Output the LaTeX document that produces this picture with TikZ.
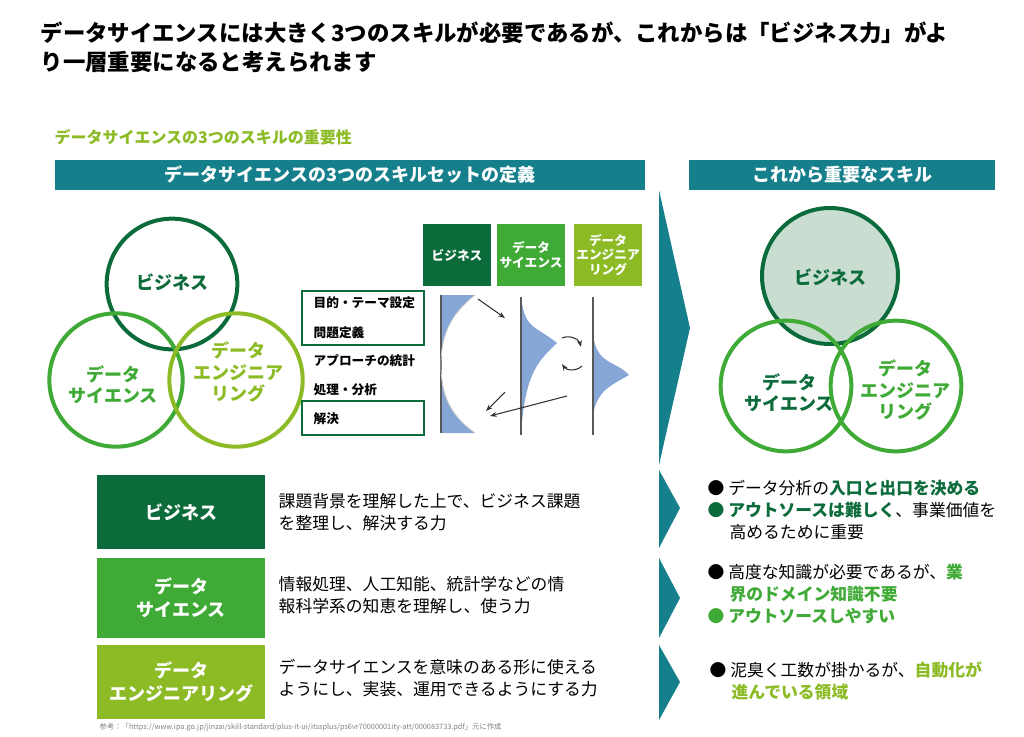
\documentclass[tikz,border=0pt]{standalone}
\usepackage{fontspec}
\setmainfont{Noto Sans CJK JP}
\usetikzlibrary{arrows.meta}
\definecolor{dg}{HTML}{0B6B3A}
\definecolor{mg}{HTML}{3FAA35}
\definecolor{lg}{HTML}{8CBB26}
\definecolor{teal}{HTML}{167F8C}
\definecolor{blu}{HTML}{86A6D6}
\definecolor{bizfill}{HTML}{C9DDD1}
\newcommand{\hind}{\hspace*{1.3em}}
\begin{document}
\begin{tikzpicture}[x=0.75pt,y=-0.75pt,
  hdr/.style={fill=teal,text=white,font=\bfseries\fontsize{13.5}{15}\selectfont,inner sep=0},
  circ/.style={line width=3pt,circle},
  ctext/.style={font=\bfseries\fontsize{13.5}{16}\selectfont,align=center},
  tbox/.style={draw=dg,line width=1.6pt,minimum width=92pt,inner sep=0},
  ltext/.style={font=\bfseries\fontsize{9.5}{11}\selectfont,anchor=west},
  sbox/.style={text=white,font=\bfseries\fontsize{9.5}{11}\selectfont,align=center,minimum width=51pt,minimum height=47pt,inner sep=0},
  bbox/.style={text=white,font=\bfseries\fontsize{13.5}{17}\selectfont,align=center,minimum width=126pt,inner sep=0},
  desc/.style={font=\fontsize{12.6}{17}\selectfont,align=left,anchor=west},
  rt/.style={font=\fontsize{12.6}{16.5}\selectfont,align=left,anchor=north west},
  arr/.style={-{Stealth[length=5pt]},line width=0.8pt,draw=black!80},
  chev/.style={fill=teal,draw=none}]
\useasboundingbox (0,0) rectangle (1024,736);
\node[anchor=north west,font=\bfseries\fontsize{16.8}{22}\selectfont,align=left] (title) at (36,17) {データサイエンスには大きく3つのスキルが必要であるが、これからは「ビジネス力」がよ\\り一層重要になると考えられます};
\node[anchor=west,text=lg,font=\bfseries\fontsize{12}{14}\selectfont] (sub) at (50,137) {データサイエンスの3つのスキルの重要性};
\node[hdr,minimum width=442pt,minimum height=22.5pt] (h1) at (350,175) {データサイエンスの3つのスキルセットの定義};
\node[hdr,minimum width=229pt,minimum height=22.5pt] (h2) at (842,175) {これから重要なスキル};
% chevrons
\fill[chev] (659,190) -- (690,328) -- (659,465) -- cycle;
\fill[chev] (659,470) -- (680,508) -- (659,548) -- cycle;
\fill[chev] (659,558) -- (680,598) -- (659,638) -- cycle;
\fill[chev] (659,645) -- (680,682) -- (659,720) -- cycle;
% left circles
\node[circ,draw=dg,minimum size=98pt] (cb) at (172,284) {};
\node[circ,draw=mg,minimum size=100pt] (cd) at (116,380) {};
\node[circ,draw=lg,minimum size=100pt] (ce) at (236,380) {};
\node[ctext,text=dg] (tb) at (172,282) {ビジネス};
\node[ctext,text=mg] (td) at (113,385) {データ\\サイエンス};
\node[ctext,text=lg] (te) at (238,372) {データ\\エンジニア\\リング};
% right circles
\node[circ,draw=dg,fill=bizfill,minimum size=102pt] (rb) at (830,276) {};
\node[circ,draw=mg,minimum size=98pt] (rd) at (786,386) {};
\node[circ,draw=mg,minimum size=98pt] (re) at (896,386) {};
\node[ctext,text=dg] (rtb) at (830,277) {ビジネス};
\node[ctext,text=dg] (rtd) at (789,393) {データ\\サイエンス};
\node[ctext,text=mg] (rte) at (905,390) {データ\\エンジニア\\リング};
% small boxes
\node[sbox,fill=dg] (s1) at (457,255) {ビジネス};
\node[sbox,fill=mg] (s2) at (531,255) {データ\\サイエンス};
\node[sbox,fill=lg] (s3) at (608,255) {データ\\エンジニア\\リング};
% process boxes
\node[tbox,minimum height=40pt] (p1) at (363,318) {};
\node[tbox,minimum height=26pt] (p2) at (363,418) {};
\node[ltext] (l1) at (309,303) {目的・テーマ設定};
\node[ltext] (l2) at (309,333) {問題定義};
\node[ltext] (l3) at (309,361) {アプローチの統計};
\node[ltext] (l4) at (309,390) {処理・分析};
\node[ltext] (l5) at (309,419) {解決};
% distributions
\fill[blu] (441,295) -- (475,295) .. controls (450,315) and (441,335) .. (441,365) .. controls (441,395) and (450,415) .. (475,433) -- (441,433) -- cycle;
\draw[gray!70!black,line width=0.8pt] (441,295) -- (441,433);
\draw[gray!40,line width=0.6pt] (475,295) .. controls (450,315) and (441,335) .. (441,365) .. controls (441,395) and (450,415) .. (475,433);
\fill[blu] (521,297) .. controls (525,330) and (535,325) .. (557,343) .. controls (540,360) and (525,370) .. (521,435) -- cycle;
\draw[gray!70!black,line width=0.8pt] (521,297) -- (521,435);
\fill[blu] (593,335) .. controls (597,365) and (615,360) .. (629,375) .. controls (612,385) and (597,390) .. (593,415) -- cycle;
\draw[gray!70!black,line width=0.8pt] (593,297) -- (593,435);
\coordinate (a1s) at (478,299); \coordinate (a1e) at (505,318);
\coordinate (a2s) at (562,338); \coordinate (a2e) at (581,347);
\coordinate (a3s) at (582,366); \coordinate (a3e) at (562,364);
\coordinate (a4s) at (505,392); \coordinate (a4e) at (486,411);
\coordinate (a5s) at (567,396); \coordinate (a5e) at (490,416);
\draw[arr] (a1s) -- (a1e);
\draw[arr] (a2s) to[bend left=50] (a2e);
\draw[arr] (a3s) to[bend left=50] (a3e);
\draw[arr] (a4s) -- (a4e);
\draw[arr] (a5s) -- (a5e);
% bottom boxes
\node[bbox,fill=dg,minimum height=56pt] (b1) at (181,512) {ビジネス};
\node[bbox,fill=mg,minimum height=60pt] (b2) at (181,598) {データ\\サイエンス};
\node[bbox,fill=lg,minimum height=55pt] (b3) at (181,682) {データ\\エンジニアリング};
\node[desc] (d1) at (274,512) {課題背景を理解した上で、ビジネス課題\\を整理し、解決する力};
\node[desc] (d2) at (274,595) {情報処理、人工知能、統計学などの情\\報科学系の知恵を理解し、使う力};
\node[desc] (d3) at (274,678) {データサイエンスを意味のある形に使える\\ようにし、実装、運用できるようにする力};
% right text
\node[rt] (r1) at (703,475) {●~データ分析の\textbf{\color{dg}入口と出口を決める}\\{\color{dg}●}~\textbf{\color{dg}アウトソースは難しく}、事業価値を\\\hind 高めるために重要};
\node[rt] (r2) at (703,559) {●~高度な知識が必要であるが、\textbf{\color{mg}業}\\\hind\textbf{\color{mg}界のドメイン知識不要}\\{\color{mg}●~\textbf{アウトソースしやすい}}};
\node[rt] (r3) at (705,657) {●~泥臭く工数が掛かるが、\textbf{\color{lg}自動化が}\\\hind\textbf{\color{lg}進んでいる領域}};
\node[anchor=west,text=gray,font=\fontsize{5.5}{6}\selectfont] (ref) at (95,727) {参考：「https://www.ipa.go.jp/jinzai/skill-standard/plus-it-ui/itssplus/ps6vr70000001ity-att/000083733.pdf」元に作成};
\end{tikzpicture}
\end{document}
